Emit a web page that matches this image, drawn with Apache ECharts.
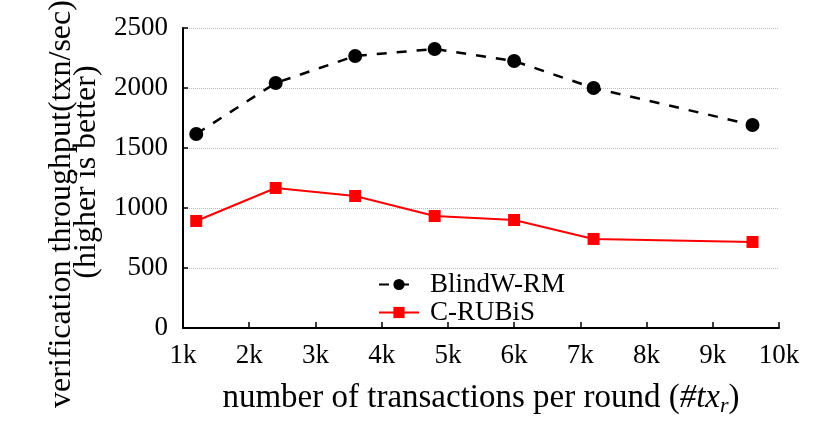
<!DOCTYPE html>
<html><head><meta charset="utf-8">
<script src="https://cdn.jsdelivr.net/npm/echarts@6/dist/echarts.min.js"></script>
<style>html,body{margin:0;padding:0;background:#fff}#c{width:830px;height:447px}</style>
</head><body><div id="c"></div>
<script>
const txPerRound = [1200, 2400, 3600, 4800, 6000, 7200, 9600];
const blindwRM = [1617, 2042, 2267, 2325, 2225, 2000, 1692];
const cRUBiS = [892, 1167, 1100, 933, 900, 742, 717];
const xTicks = ['1k','2k','3k','4k','5k','6k','7k','8k','9k','10k'];
const seriesNames = ['BlindW-RM', 'C-RUBiS'];

const font = 'Liberation Serif';
const chart = echarts.init(document.getElementById('c'));
chart.setOption({
  animation: false,
  textStyle: {fontFamily: font},
  grid: {left: 183, right: 51, top: 28, bottom: 119, containLabel: false, outerBoundsMode: 'none'},
  legend: {
    orient: 'vertical', left: 373, top: 266, itemGap: 1, itemWidth: 40, itemHeight: 14,
    textStyle: {fontFamily: font, fontSize: 27, color: '#000', padding: [0, 0, 0, 6]},
    data: seriesNames
  },
  xAxis: {
    type: 'value', min: 1000, max: 10000, interval: 1000,
    axisLine: {lineStyle: {color: '#000', width: 2}},
    axisTick: {inside: true, length: 6, lineStyle: {color: '#000', width: 1.5}},
    splitLine: {show: false},
    axisLabel: {fontFamily: font, fontSize: 27, color: '#000', margin: 14,
      formatter: v => xTicks[Math.round(v/1000) - 1]},
    name: '{a|number of transactions per round (}{i|#tx}{s|r}{a|)}',
    nameLocation: 'middle', nameGap: 51,
    nameTextStyle: {rich: {
      a: {fontFamily: font, fontSize: 33, color: '#000'},
      i: {fontFamily: font, fontSize: 33, color: '#000', fontStyle: 'italic'},
      s: {fontFamily: font, fontSize: 22, color: '#000', fontStyle: 'italic', padding: [16, 0, 0, 0]}
    }}
  },
  yAxis: {
    type: 'value', min: 0, max: 2500, interval: 500,
    axisLine: {show: true, lineStyle: {color: '#000', width: 2}},
    axisTick: {show: true, inside: true, length: 5, lineStyle: {color: '#000', width: 1.5}},
    splitLine: {lineStyle: {color: '#bbb', type: 'dotted', width: 1}},
    axisLabel: {fontFamily: font, fontSize: 27, color: '#000', margin: 15,
      formatter: v => String(v)},
    name: '{a|verification throughput(txn/sec)}\n{b|(higher is better)}',
    nameLocation: 'middle', nameGap: 84, nameRotate: 90,
    nameTextStyle: {fontFamily: font, fontSize: 32, color: '#000', lineHeight: 25, rich: {
      a: {fontFamily: font, fontSize: 32, color: '#000', lineHeight: 25, padding: [0, 52, 0, 0]},
      b: {fontFamily: font, fontSize: 32, color: '#000', lineHeight: 25, padding: [0, 0, 0, 12]}
    }}
  },
  series: [
    {
      name: seriesNames[0], type: 'line',
      data: txPerRound.map((x, i) => [x, blindwRM[i]]),
      symbol: 'circle', symbolSize: 14,
      lineStyle: {color: '#000', width: 2.5, type: [10, 10]},
      itemStyle: {color: '#000'}
    },
    {
      name: seriesNames[1], type: 'line',
      data: txPerRound.map((x, i) => [x, cRUBiS[i]]),
      symbol: 'rect', symbolSize: 12,
      lineStyle: {color: '#ff0000', width: 2},
      itemStyle: {color: '#ff0000'}
    }
  ]
});
</script></body></html>
